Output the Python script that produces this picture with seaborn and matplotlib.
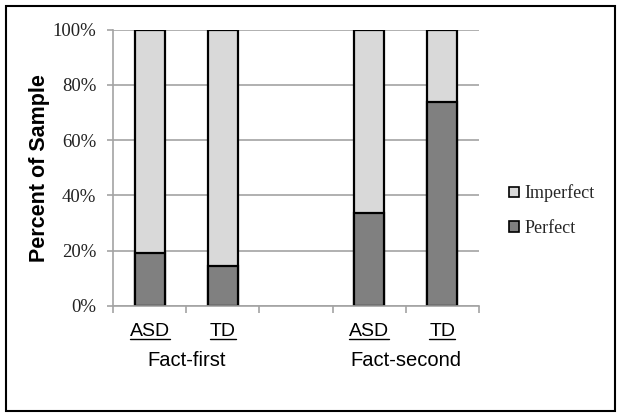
import matplotlib
matplotlib.use("Agg")
import matplotlib.pyplot as plt
import seaborn as sns
import pandas as pd
from matplotlib.patches import Patch, Rectangle
from matplotlib.lines import Line2D
from matplotlib.transforms import blended_transform_factory

# ---- data ----
slot_order = ["FF-ASD", "FF-TD", "gap", "FS-ASD", "FS-TD"]
bar_slots = ["FF-ASD", "FF-TD", "FS-ASD", "FS-TD"]
group_labels = ["ASD", "TD", "ASD", "TD"]
condition_labels = ["Fact-first", "Fact-second"]
perfect = [19.1, 14.4, 33.5, 73.8]
imperfect = [80.9, 85.6, 66.5, 26.2]
ytick_vals = [0, 20, 40, 60, 80, 100]
ytick_labels = ["0%", "20%", "40%", "60%", "80%", "100%"]

df = pd.DataFrame({"slot": bar_slots, "perfect": perfect, "imperfect": imperfect})
df["top"] = df["perfect"] + df["imperfect"]

sns.set_theme(style="white")
plt.rcParams["font.family"] = ["Liberation Sans", "DejaVu Sans"]

W, H = 621, 417
fig = plt.figure(figsize=(W / 100, H / 100), dpi=100)
ax = fig.add_axes([113 / W, 1 - 306 / H, (479 - 113) / W, (306 - 29.5) / H])

light = "#d9d9d9"
dark = "#808080"
grid_c = "#a3a3a3"

sns.barplot(data=df, x="slot", y="top", order=slot_order, color=light, saturation=1,
            edgecolor="black", linewidth=1.6, width=0.41, errorbar=None, ax=ax)
sns.barplot(data=df, x="slot", y="perfect", order=slot_order, color=dark, saturation=1,
            edgecolor="black", linewidth=1.6, width=0.41, errorbar=None, ax=ax)

ax.set_xlim(-0.5, 4.5)
ax.set_ylim(0, 100)
ax.set_yticks(ytick_vals)
ax.set_yticklabels(ytick_labels, fontfamily="Liberation Serif", fontsize=13.5, color="#222222")
ax.set_xticks([-0.5, 0.5, 1.5, 2.5, 3.5, 4.5])
ax.set_xticklabels([""] * 6)
ax.set_xlabel("")
ax.set_ylabel("Percent of Sample", fontsize=15.5, fontweight="bold", color="black")
ax.yaxis.set_label_coords(-0.172, 0.5)

ax.yaxis.grid(True, color=grid_c, linewidth=1.2)
ax.xaxis.grid(False)
ax.set_axisbelow(True)
for s in ["top", "right"]:
    ax.spines[s].set_visible(False)
for s in ["left", "bottom"]:
    ax.spines[s].set_color(grid_c)
    ax.spines[s].set_linewidth(1.2)
ax.tick_params(axis="y", length=4, color=grid_c, width=1.2, pad=8, left=True)
ax.tick_params(axis="x", length=5, color=grid_c, width=1.2, bottom=True)

# group labels (underlined) and condition labels
tr = blended_transform_factory(ax.transData, fig.transFigure)
label_positions = [0, 1, 3, 4]
texts = []
for pos, lab in zip(label_positions, group_labels):
    t = ax.text(pos, 1 - 331 / H, lab, transform=tr, ha="center", va="center",
                fontsize=14, color="black")
    texts.append(t)
for pos, lab in zip([0.5, 3.5], condition_labels):
    ax.text(pos, 1 - 360 / H, lab, transform=tr, ha="center", va="center",
            fontsize=14.5, color="black")

fig.canvas.draw()
r = fig.canvas.get_renderer()
for t in texts:
    bb = t.get_window_extent(r)
    yline = (H - 339) / H
    fig.add_artist(Line2D([bb.x0 / W, bb.x1 / W], [yline, yline], transform=fig.transFigure,
                          color="black", linewidth=1.0))

# legend
handles = [Patch(facecolor=light, edgecolor="black", linewidth=1.2, label="Imperfect"),
           Patch(facecolor=dark, edgecolor="black", linewidth=1.2, label="Perfect")]
fig.legend(handles=handles, loc="center left", bbox_to_anchor=(509 / W, 1 - 210.5 / H),
           frameon=False, prop={"family": "Liberation Serif", "size": 13},
           borderpad=0, borderaxespad=0,
           handlelength=0.55, handleheight=0.55, handletextpad=0.3, labelspacing=0.95)

# outer border
fig.add_artist(Rectangle((6 / W, 6 / H), (615 - 6) / W, (411 - 6) / H, transform=fig.transFigure,
                         fill=False, edgecolor="black", linewidth=1.5))

fig.savefig("out.png", dpi=100)
